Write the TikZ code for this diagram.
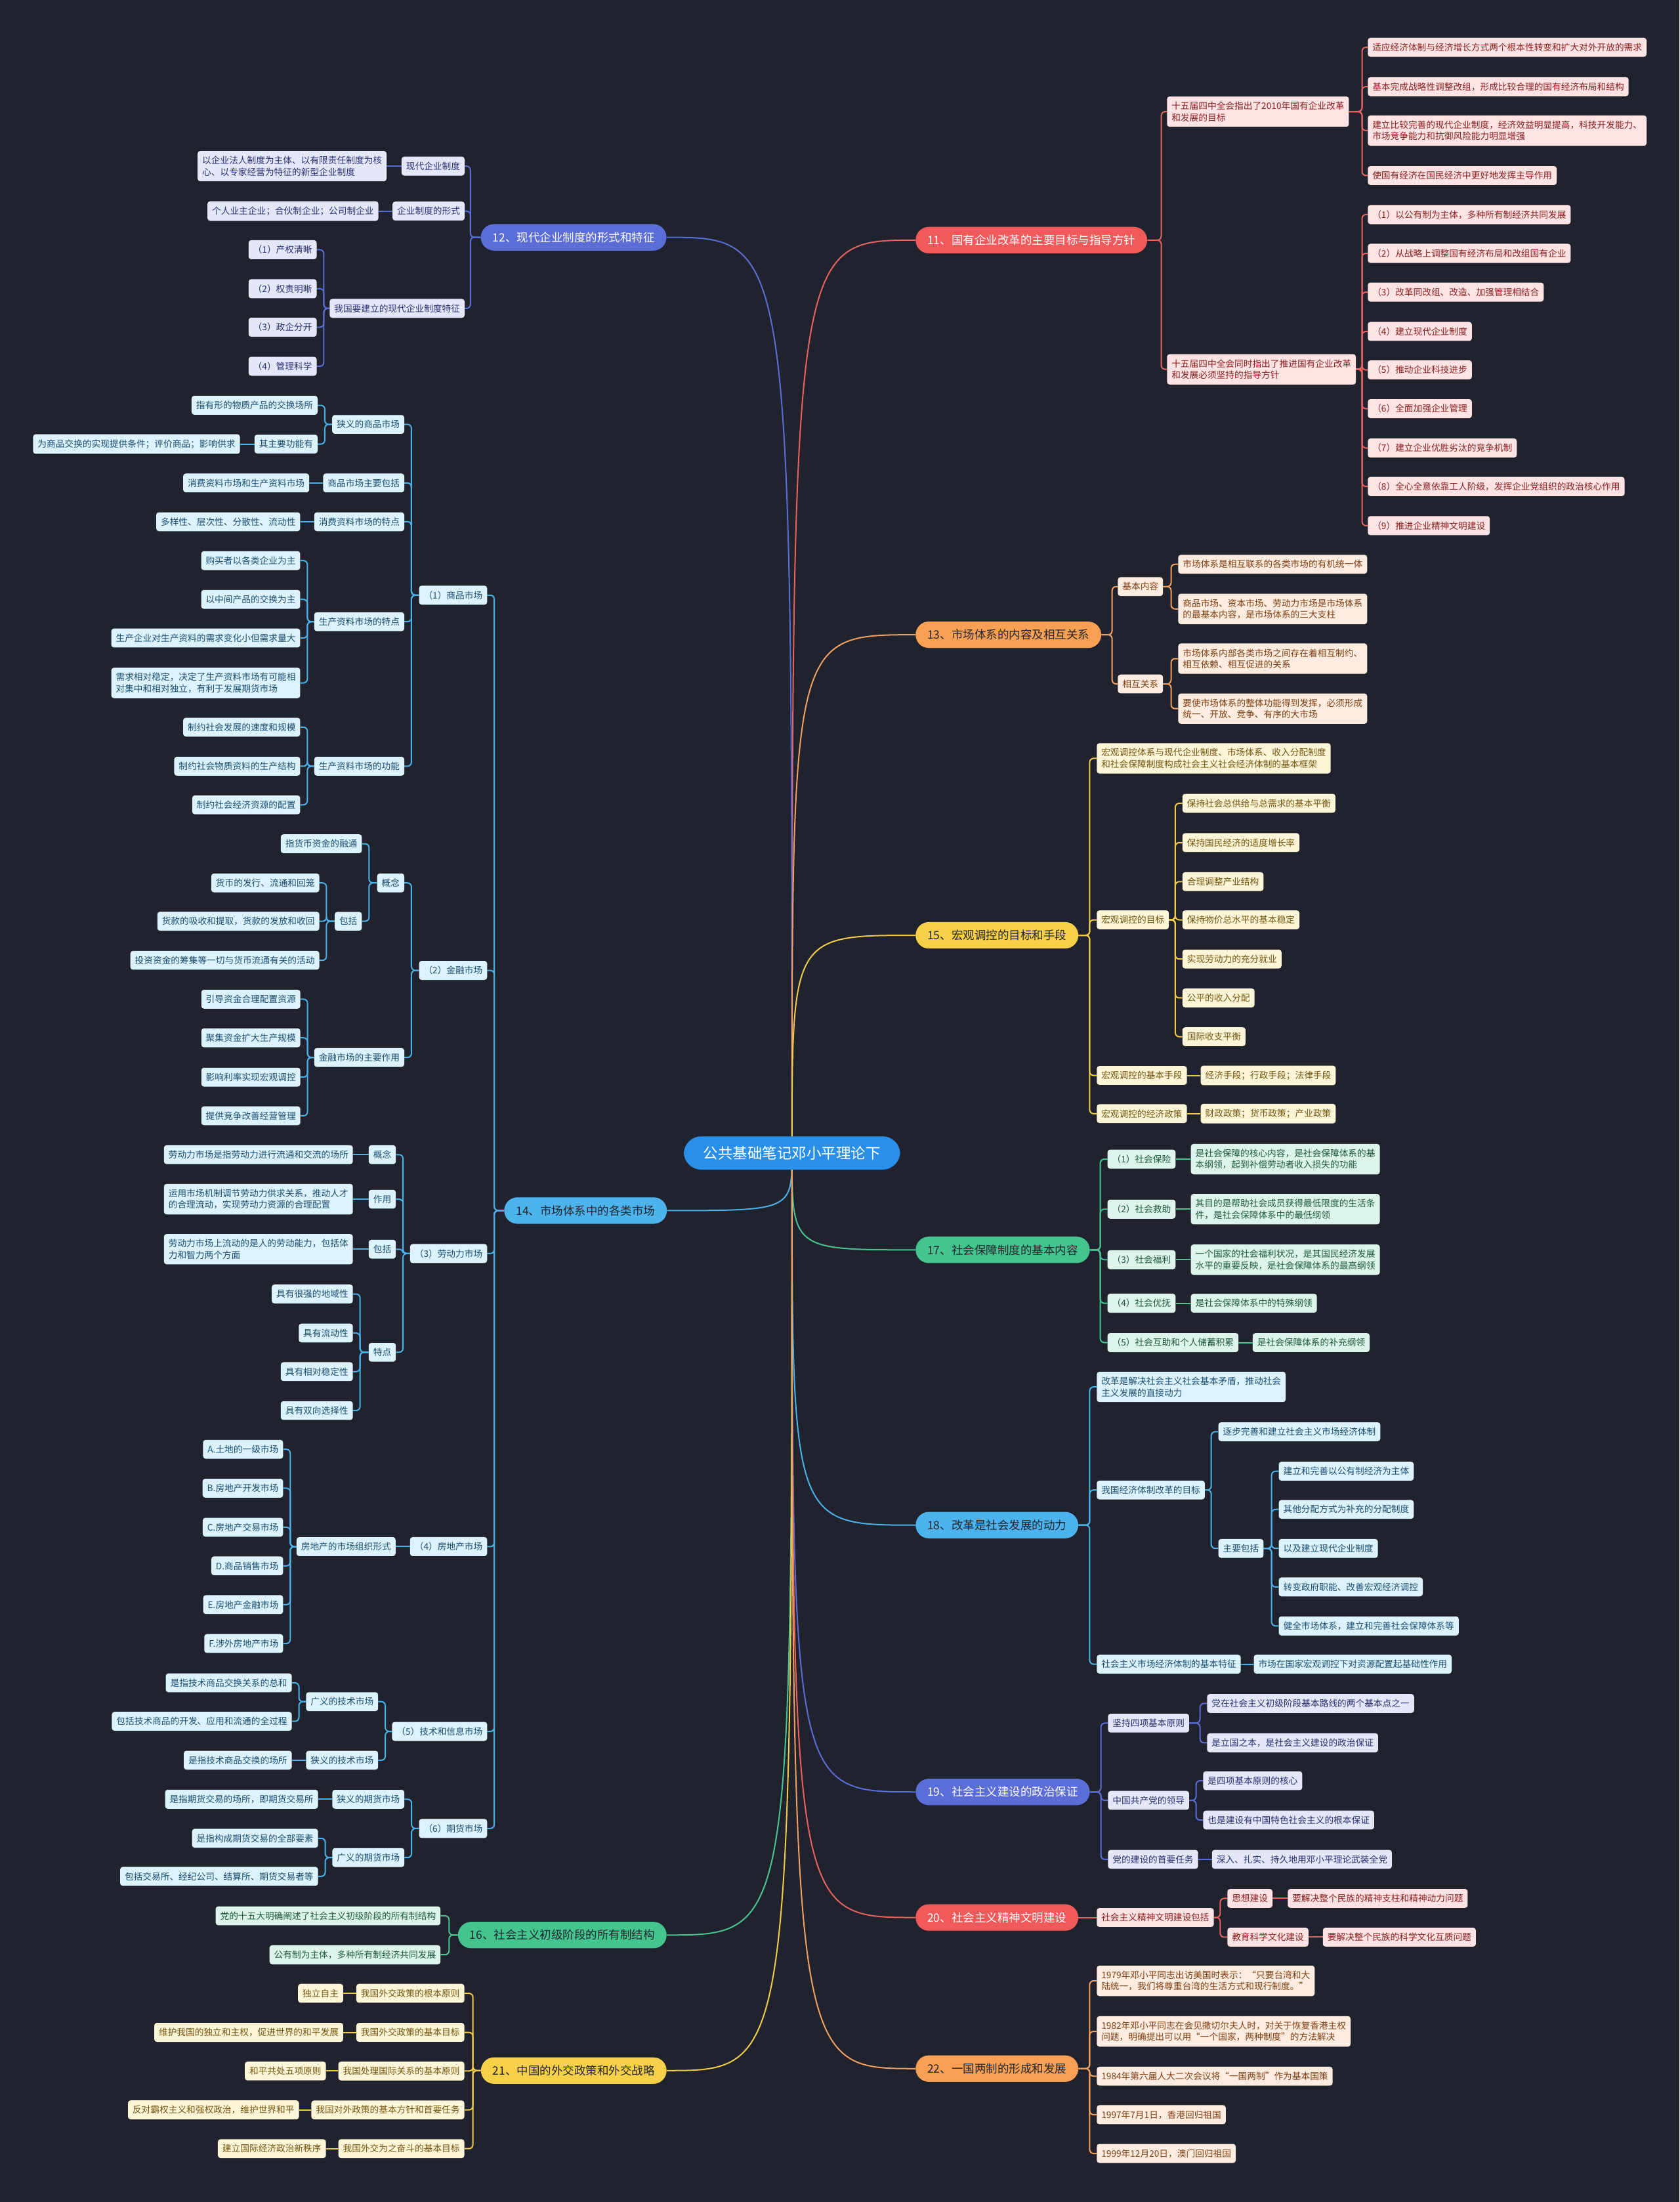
\documentclass[tikz,border=0pt]{standalone}
\usepackage{fontspec}
\setmainfont{Noto Sans CJK SC}
\usetikzlibrary{calc}
\pgfdeclarelayer{bg}\pgfdeclarelayer{edges}
\pgfsetlayers{bg,edges,main}
\definecolor{BG}{HTML}{20232E}
\definecolor{Hred}{HTML}{F05A5A}\definecolor{Lred}{HTML}{E8625F}\definecolor{Fred}{HTML}{FDE3E3}\definecolor{Tred}{HTML}{8A1F1F}
\definecolor{Hind}{HTML}{5B6DD6}\definecolor{Lind}{HTML}{5A6DD4}\definecolor{Find}{HTML}{E4E7F8}\definecolor{Tind}{HTML}{2A3170}
\definecolor{Horg}{HTML}{F7A053}\definecolor{Lorg}{HTML}{F0A060}\definecolor{Forg}{HTML}{FDECDF}\definecolor{Torg}{HTML}{7D3F12}
\definecolor{Hblu}{HTML}{4DB3EC}\definecolor{Lblu}{HTML}{4AB2E8}\definecolor{Fblu}{HTML}{DCF2FD}\definecolor{Tblu}{HTML}{1B4E6E}
\definecolor{Hyel}{HTML}{F7D04A}\definecolor{Lyel}{HTML}{F0CB4A}\definecolor{Fyel}{HTML}{FDF5D8}\definecolor{Tyel}{HTML}{72560E}
\definecolor{Hgrn}{HTML}{44C58F}\definecolor{Lgrn}{HTML}{48C493}\definecolor{Fgrn}{HTML}{DCF4EA}\definecolor{Tgrn}{HTML}{1F5A3E}
\definecolor{Hroot}{HTML}{2A8FE8}\definecolor{Hdark}{HTML}{23252E}
\newcommand{\nfs}{\fontsize{13.7pt}{17.4pt}\selectfont}
\newcommand{\hfs}{\fontsize{17.5pt}{21pt}\selectfont}
\newcommand{\rfs}{\fontsize{22.5pt}{27pt}\selectfont}
\tikzset{
  nd/.style={font=\nfs, inner xsep=7pt, inner ysep=8pt, rounded corners=4pt, align=left},
  R/.style={nd, anchor=west}, L/.style={nd, anchor=east},
  hone/.style={font=\hfs, inner xsep=18pt, inner ysep=12pt, rounded corners=20pt},
  rootnode/.style={font=\rfs, inner xsep=30pt, inner ysep=15pt, rounded corners=27pt, fill=Hroot, text=white},
  bred/.style={fill=Fred, text=Tred}, bind/.style={fill=Find, text=Tind},
  borg/.style={fill=Forg, text=Torg}, bblu/.style={fill=Fblu, text=Tblu},
  byel/.style={fill=Fyel, text=Tyel}, bgrn/.style={fill=Fgrn, text=Tgrn},
  ln/.style={line width=2pt, rounded corners=6pt, draw=#1},
  er/.style={to path={(\tikztostart.east) -| ($(\tikztotarget.west)+(-#1,0)$) -- (\tikztotarget.west)}},
  er/.default=5,
  el/.style={to path={(\tikztostart.west) -| ($(\tikztotarget.east)+(#1,0)$) -- (\tikztotarget.east)}},
  el/.default=5,
  sr/.style={to path={(\tikztostart.east) -- (\tikztotarget.west)}},
  sl/.style={to path={(\tikztostart.west) -- (\tikztotarget.east)}},
}
\begin{document}
\begin{tikzpicture}[x=2.1405pt,y=-2.1405pt]
\begin{pgfonlayer}{bg}
\fill[BG] (0,0) rectangle (1196,1568);
\end{pgfonlayer}
\useasboundingbox (0,0) rectangle (1196,1568);

% ---------- root ----------
\node[rootnode] (root) at (564,821) {公共基础笔记邓小平理论下};

% ---------- level 1 ----------
\node[hone,fill=Hred,text=white,anchor=west] (n11) at (652,171) {11、国有企业改革的主要目标与指导方针};
\node[hone,fill=Hind,text=white,anchor=east] (n12) at (474.7,169) {12、现代企业制度的形式和特征};
\node[hone,fill=Horg,text=Hdark,anchor=west] (n13) at (652,452) {13、市场体系的内容及相互关系};
\node[hone,fill=Hblu,text=Hdark,anchor=east] (n14) at (475,862) {14、市场体系中的各类市场};
\node[hone,fill=Hyel,text=Hdark,anchor=west] (n15) at (652,666) {15、宏观调控的目标和手段};
\node[hone,fill=Hgrn,text=Hdark,anchor=east] (n16) at (474.8,1377.9) {16、社会主义初级阶段的所有制结构};
\node[hone,fill=Hgrn,text=Hdark,anchor=west] (n17) at (652,890) {17、社会保障制度的基本内容};
\node[hone,fill=Hblu,text=Hdark,anchor=west] (n18) at (652,1086) {18、改革是社会发展的动力};
\node[hone,fill=Hind,text=white,anchor=west] (n19) at (652,1276) {19、社会主义建设的政治保证};
\node[hone,fill=Hred,text=white,anchor=west] (n20) at (652,1365.4) {20、社会主义精神文明建设};
\node[hone,fill=Hyel,text=Hdark,anchor=east] (n21) at (474.8,1474.4) {21、中国的外交政策和外交战略};
\node[hone,fill=Horg,text=Hdark,anchor=west] (n22) at (652,1473) {22、一国两制的形成和发展};

% ---------- branch 11 ----------
\node[R,bred] (a1) at (831,79.5) {十五届四中全会指出了2010年国有企业改革\\和发展的目标};
\node[R,bred] (a2) at (831,263) {十五届四中全会同时指出了推进国有企业改革\\和发展必须坚持的指导方针};
\node[R,bred] (a1a) at (974,33.7) {适应经济体制与经济增长方式两个根本性转变和扩大对外开放的需求};
\node[R,bred] (a1b) at (974,61.7) {基本完成战略性调整改组，形成比较合理的国有经济布局和结构};
\node[R,bred] (a1c) at (974,93) {建立比较完善的现代企业制度，经济效益明显提高，科技开发能力、\\市场竞争能力和抗御风险能力明显增强};
\node[R,bred] (a1d) at (974,125) {使国有经济在国民经济中更好地发挥主导作用};
\node[R,bred] (a2a) at (974,152.8) {（1）以公有制为主体，多种所有制经济共同发展};
\node[R,bred] (a2b) at (974,180.4) {（2）从战略上调整国有经济布局和改组国有企业};
\node[R,bred] (a2c) at (974,208) {（3）改革同改组、改造、加强管理相结合};
\node[R,bred] (a2d) at (974,236) {（4）建立现代企业制度};
\node[R,bred] (a2e) at (974,263.4) {（5）推动企业科技进步};
\node[R,bred] (a2f) at (974,291) {（6）全面加强企业管理};
\node[R,bred] (a2g) at (974,319) {（7）建立企业优胜劣汰的竞争机制};
\node[R,bred] (a2h) at (974,346.4) {（8）全心全意依靠工人阶级，发挥企业党组织的政治核心作用};
\node[R,bred] (a2i) at (974,374.3) {（9）推进企业精神文明建设};

% ---------- branch 12 ----------
\node[L,bind] (b1) at (331,118.3) {现代企业制度};
\node[L,bind] (b2) at (331,150.3) {企业制度的形式};
\node[L,bind] (b3) at (331,219.6) {我国要建立的现代企业制度特征};
\node[L,bind] (b1a) at (275.4,118.3) {以企业法人制度为主体、以有限责任制度为核\\心、以专家经营为特征的新型企业制度};
\node[L,bind] (b2a) at (269.6,150.3) {个人业主企业；合伙制企业；公司制企业};
\node[L,bind] (b3a) at (225.6,177.8) {（1）产权清晰};
\node[L,bind] (b3b) at (225.6,205.6) {（2）权责明晰};
\node[L,bind] (b3c) at (225.6,233) {（3）政企分开};
\node[L,bind] (b3d) at (225.6,260.8) {（4）管理科学};

% ---------- branch 14 ----------
\node[L,bblu] (c1) at (347,423.8) {（1）商品市场};
\node[L,bblu] (c2) at (347,691) {（2）金融市场};
\node[L,bblu] (c3) at (347,892.6) {（3）劳动力市场};
\node[L,bblu] (c4) at (347,1101.3) {（4）房地产市场};
\node[L,bblu] (c5) at (347,1232.9) {（5）技术和信息市场};
\node[L,bblu] (c6) at (347,1302) {（6）期货市场};

\node[L,bblu] (c1a) at (288,302.2) {狭义的商品市场};
\node[L,bblu] (c1b) at (288,343.9) {商品市场主要包括};
\node[L,bblu] (c1c) at (288,371.5) {消费资料市场的特点};
\node[L,bblu] (c1d) at (288,442.7) {生产资料市场的特点};
\node[L,bblu] (c1e) at (288,545.6) {生产资料市场的功能};
\node[L,bblu] (c1a1) at (226.3,288.6) {指有形的物质产品的交换场所};
\node[L,bblu] (c1a2) at (226.3,316.2) {其主要功能有};
\node[L,bblu] (c1a2a) at (171,316.2) {为商品交换的实现提供条件；评价商品；影响供求};
\node[L,bblu] (c1b1) at (220.3,343.9) {消费资料市场和生产资料市场};
\node[L,bblu] (c1c1) at (213.9,371.5) {多样性、层次性、分散性、流动性};
\node[L,bblu] (c1d1) at (213.9,399.2) {购买者以各类企业为主};
\node[L,bblu] (c1d2) at (213.9,426.8) {以中间产品的交换为主};
\node[L,bblu] (c1d3) at (213.9,454.3) {生产企业对生产资料的需求变化小但需求量大};
\node[L,bblu] (c1d4) at (213.9,486.3) {需求相对稳定，决定了生产资料市场有可能相\\对集中和相对独立，有利于发展期货市场};
\node[L,bblu] (c1e1) at (213.9,517.8) {制约社会发展的速度和规模};
\node[L,bblu] (c1e2) at (213.9,545.6) {制约社会物质资料的生产结构};
\node[L,bblu] (c1e3) at (213.9,573.1) {制约社会经济资源的配置};

\node[L,bblu] (c2a) at (288,628.7) {概念};
\node[L,bblu] (c2b) at (288,753) {金融市场的主要作用};
\node[L,bblu] (c2a1) at (257.8,600.8) {指货币资金的融通};
\node[L,bblu] (c2a2) at (257.8,656) {包括};
\node[L,bblu] (c2a2a) at (227.5,628.7) {货币的发行、流通和回笼};
\node[L,bblu] (c2a2b) at (227.5,656) {货款的吸收和提取，货款的发放和收回};
\node[L,bblu] (c2a2c) at (227.5,683.8) {投资资金的筹集等一切与货币流通有关的活动};
\node[L,bblu] (c2b1) at (214,711.5) {引导资金合理配置资源};
\node[L,bblu] (c2b2) at (214,739) {聚集资金扩大生产规模};
\node[L,bblu] (c2b3) at (214,767) {影响利率实现宏观调控};
\node[L,bblu] (c2b4) at (214,794.5) {提供竞争改善经营管理};

\node[L,bblu] (c3a) at (282,822.2) {概念};
\node[L,bblu] (c3b) at (282,853.9) {作用};
\node[L,bblu] (c3c) at (282,889.5) {包括};
\node[L,bblu] (c3d) at (282,962.9) {特点};
\node[L,bblu] (c3a1) at (251.4,822.2) {劳动力市场是指劳动力进行流通和交流的场所};
\node[L,bblu] (c3b1) at (251.4,853.9) {运用市场机制调节劳动力供求关系，推动人才\\的合理流动，实现劳动力资源的合理配置};
\node[L,bblu] (c3c1) at (251.4,889.5) {劳动力市场上流动的是人的劳动能力，包括体\\力和智力两个方面};
\node[L,bblu] (c3d1) at (251.4,921.4) {具有很强的地域性};
\node[L,bblu] (c3d2) at (251.4,949.2) {具有流动性};
\node[L,bblu] (c3d3) at (251.4,976.7) {具有相对稳定性};
\node[L,bblu] (c3d4) at (251.4,1004.4) {具有双向选择性};

\node[L,bblu] (c4a) at (281.8,1101.3) {房地产的市场组织形式};
\node[L,bblu] (c4a1) at (201.7,1032) {A.土地的一级市场};
\node[L,bblu] (c4a2) at (201.7,1059.7) {B.房地产开发市场};
\node[L,bblu] (c4a3) at (201.7,1087.5) {C.房地产交易市场};
\node[L,bblu] (c4a4) at (201.7,1115) {D.商品销售市场};
\node[L,bblu] (c4a5) at (201.7,1142.6) {E.房地产金融市场};
\node[L,bblu] (c4a6) at (201.7,1170.3) {F.涉外房地产市场};

\node[L,bblu] (c5a) at (269.4,1211.7) {广义的技术市场};
\node[L,bblu] (c5b) at (269.4,1253.4) {狭义的技术市场};
\node[L,bblu] (c5a1) at (207.9,1198.3) {是指技术商品交换关系的总和};
\node[L,bblu] (c5a2) at (207.9,1225.7) {包括技术商品的开发、应用和流通的全过程};
\node[L,bblu] (c5b1) at (207.9,1253.4) {是指技术商品交换的场所};

\node[L,bblu] (c6a) at (288.1,1281.2) {狭义的期货市场};
\node[L,bblu] (c6b) at (288.1,1322.7) {广义的期货市场};
\node[L,bblu] (c6a1) at (226.6,1281.2) {是指期货交易的场所，即期货交易所};
\node[L,bblu] (c6b1) at (226.6,1309) {是指构成期货交易的全部要素};
\node[L,bblu] (c6b2) at (226.6,1336.1) {包括交易所、经纪公司、结算所、期货交易者等};

% ---------- branch 16 ----------
\node[L,bgrn] (p1) at (313.8,1364.2) {党的十五大明确阐述了社会主义初级阶段的所有制结构};
\node[L,bgrn] (p2) at (313.8,1391.9) {公有制为主体，多种所有制经济共同发展};

% ---------- branch 21 ----------
\node[L,byel] (d1) at (330.8,1419.4) {我国外交政策的根本原则};
\node[L,byel] (d2) at (330.8,1447.2) {我国外交政策的基本目标};
\node[L,byel] (d3) at (330.8,1474.7) {我国处理国际关系的基本原则};
\node[L,byel] (d4) at (330.8,1502.4) {我国对外政策的基本方针和首要任务};
\node[L,byel] (d5) at (330.8,1530) {我国外交为之奋斗的基本目标};
\node[L,byel] (d1a) at (244.5,1419.4) {独立自主};
\node[L,byel] (d2a) at (244.5,1447.2) {维护我国的独立和主权，促进世界的和平发展};
\node[L,byel] (d3a) at (232.2,1474.7) {和平共处五项原则};
\node[L,byel] (d4a) at (213,1502.4) {反对霸权主义和强权政治，维护世界和平};
\node[L,byel] (d5a) at (232.2,1530) {建立国际经济政治新秩序};

% ---------- branch 13 ----------
\node[R,borg] (e1) at (796,417.7) {基本内容};
\node[R,borg] (e2) at (796,487) {相互关系};
\node[R,borg] (e1a) at (839,401.8) {市场体系是相互联系的各类市场的有机统一体};
\node[R,borg] (e1b) at (839,433.6) {商品市场、资本市场、劳动力市场是市场体系\\的最基本内容，是市场体系的三大支柱};
\node[R,borg] (e2a) at (839,469) {市场体系内部各类市场之间存在着相互制约、\\相互依赖、相互促进的关系};
\node[R,borg] (e2b) at (839,504.6) {要使市场体系的整体功能得到发挥，必须形成\\统一、开放、竞争、有序的大市场};

% ---------- branch 15 ----------
\node[R,byel] (f0) at (781,540) {宏观调控体系与现代企业制度、市场体系、收入分配制度\\和社会保障制度构成社会主义社会经济体制的基本框架};
\node[R,byel] (f1) at (781,655) {宏观调控的目标};
\node[R,byel] (f2) at (781,765.8) {宏观调控的基本手段};
\node[R,byel] (f3) at (781,793) {宏观调控的经济政策};
\node[R,byel] (f1a) at (842,572) {保持社会总供给与总需求的基本平衡};
\node[R,byel] (f1b) at (842,600) {保持国民经济的适度增长率};
\node[R,byel] (f1c) at (842,627.8) {合理调整产业结构};
\node[R,byel] (f1d) at (842,655) {保持物价总水平的基本稳定};
\node[R,byel] (f1e) at (842,682.9) {实现劳动力的充分就业};
\node[R,byel] (f1f) at (842,710.6) {公平的收入分配};
\node[R,byel] (f1g) at (842,738.2) {国际收支平衡};
\node[R,byel] (f2a) at (855,765.8) {经济手段；行政手段；法律手段};
\node[R,byel] (f3a) at (855,793) {财政政策；货币政策；产业政策};

% ---------- branch 17 ----------
\node[R,bgrn] (g1) at (788.6,825.4) {（1）社会保险};
\node[R,bgrn] (g2) at (788.6,861) {（2）社会救助};
\node[R,bgrn] (g3) at (788.6,897) {（3）社会福利};
\node[R,bgrn] (g4) at (788.6,928) {（4）社会优抚};
\node[R,bgrn] (g5) at (788.6,956) {（5）社会互助和个人储蓄积累};
\node[R,bgrn] (g1a) at (848,825.4) {是社会保障的核心内容，是社会保障体系的基\\本纲领，起到补偿劳动者收入损失的功能};
\node[R,bgrn] (g2a) at (848,861) {其目的是帮助社会成员获得最低限度的生活条\\件，是社会保障体系中的最低纲领};
\node[R,bgrn] (g3a) at (848,897) {一个国家的社会福利状况，是其国民经济发展\\水平的重要反映，是社会保障体系的最高纲领};
\node[R,bgrn] (g4a) at (848,928) {是社会保障体系中的特殊纲领};
\node[R,bgrn] (g5a) at (892,956) {是社会保障体系的补充纲领};

% ---------- branch 18 ----------
\node[R,bblu] (h0) at (781,987.6) {改革是解决社会主义社会基本矛盾，推动社会\\主义发展的直接动力};
\node[R,bblu] (h1) at (781,1061) {我国经济体制改革的目标};
\node[R,bblu] (h2) at (781,1185) {社会主义市场经济体制的基本特征};
\node[R,bblu] (h1a) at (867.6,1019.5) {逐步完善和建立社会主义市场经济体制};
\node[R,bblu] (h1b) at (867.6,1102.6) {主要包括};
\node[R,bblu] (h1b1) at (910.6,1047.6) {建立和完善以公有制经济为主体};
\node[R,bblu] (h1b2) at (910.6,1074.8) {其他分配方式为补充的分配制度};
\node[R,bblu] (h1b3) at (910.6,1102.6) {以及建立现代企业制度};
\node[R,bblu] (h1b4) at (910.6,1130) {转变政府职能、改善宏观经济调控};
\node[R,bblu] (h1b5) at (910.6,1157.8) {健全市场体系，建立和完善社会保障体系等};
\node[R,bblu] (h2a) at (892.8,1185) {市场在国家宏观调控下对资源配置起基础性作用};

% ---------- branch 19 ----------
\node[R,bind] (i1) at (789,1227) {坚持四项基本原则};
\node[R,bind] (i2) at (789,1282) {中国共产党的领导};
\node[R,bind] (i3) at (789,1324) {党的建设的首要任务};
\node[R,bind] (i1a) at (859.6,1213) {党在社会主义初级阶段基本路线的两个基本点之一};
\node[R,bind] (i1b) at (859.6,1241) {是立国之本，是社会主义建设的政治保证};
\node[R,bind] (i2a) at (856.8,1268) {是四项基本原则的核心};
\node[R,bind] (i2b) at (856.8,1296) {也是建设有中国特色社会主义的根本保证};
\node[R,bind] (i3a) at (863,1324) {深入、扎实、持久地用邓小平理论武装全党};

% ---------- branch 20 ----------
\node[R,bred] (j1) at (781,1365.4) {社会主义精神文明建设包括};
\node[R,bred] (j1a) at (874,1351.8) {思想建设};
\node[R,bred] (j1b) at (874,1379.4) {教育科学文化建设};
\node[R,bred] (j1a1) at (917,1351.8) {要解决整个民族的精神支柱和精神动力问题};
\node[R,bred] (j1b1) at (942,1379.4) {要解决整个民族的科学文化互质问题};

% ---------- branch 22 ----------
\node[R,borg] (k1) at (781,1410.5) {1979年邓小平同志出访美国时表示：“只要台湾和大\\陆统一，我们将尊重台湾的生活方式和现行制度。”};
\node[R,borg] (k2) at (781,1446.5) {1982年邓小平同志在会见撒切尔夫人时，对关于恢复香港主权\\问题，明确提出可以用“一个国家，两种制度”的方法解决};
\node[R,borg] (k3) at (781,1478.4) {1984年第六届人大二次会议将“一国两制”作为基本国策};
\node[R,borg] (k4) at (781,1505.8) {1997年7月1日，香港回归祖国};
\node[R,borg] (k5) at (781,1533.4) {1999年12月20日，澳门回归祖国};

% ================= edges =================
\begin{pgfonlayer}{edges}
% root curves
\draw[ln=Lred] (root.center) .. controls (root.center |- n11.west) .. (n11.west);
\draw[ln=Lind] (root.center) .. controls (root.center |- n12.east) .. (n12.east);
\draw[ln=Lorg] (root.center) .. controls (root.center |- n13.west) .. (n13.west);
\draw[ln=Lblu] (root.center) .. controls (root.center |- n14.east) .. (n14.east);
\draw[ln=Lyel] (root.center) .. controls (root.center |- n15.west) .. (n15.west);
\draw[ln=Lgrn] (root.center) .. controls (root.center |- n16.east) .. (n16.east);
\draw[ln=Lgrn] (root.center) .. controls (root.center |- n17.west) .. (n17.west);
\draw[ln=Lblu] (root.center) .. controls (root.center |- n18.west) .. (n18.west);
\draw[ln=Lind] (root.center) .. controls (root.center |- n19.west) .. (n19.west);
\draw[ln=Lred] (root.center) .. controls (root.center |- n20.west) .. (n20.west);
\draw[ln=Lyel] (root.center) .. controls (root.center |- n21.east) .. (n21.east);
\draw[ln=Lorg] (root.center) .. controls (root.center |- n22.west) .. (n22.west);

% branch 11
\draw[ln=Lred] (n11) to[er=4] (a1) (n11) to[er=4] (a2);
\foreach \c in {a1a,a1b,a1c,a1d} \draw[ln=Lred] (a1) to[er=4] (\c);
\foreach \c in {a2a,a2b,a2c,a2d,a2e,a2f,a2g,a2h,a2i} \draw[ln=Lred] (a2) to[er=4] (\c);

% branch 12
\foreach \c in {b1,b2,b3} \draw[ln=Lind] (n12) to[el=4] (\c);
\draw[ln=Lind] (b1) to[sl] (b1a) (b2) to[sl] (b2a);
\foreach \c in {b3a,b3b,b3c,b3d} \draw[ln=Lind] (b3) to[el=5] (\c);

% branch 14
\foreach \c in {c1,c2,c3,c4,c5,c6} \draw[ln=Lblu] (n14) to[el=5] (\c);
\foreach \c in {c1a,c1b,c1c,c1d,c1e} \draw[ln=Lblu] (c1) to[el=5] (\c);
\foreach \c in {c1a1,c1a2} \draw[ln=Lblu] (c1a) to[el=5] (\c);
\draw[ln=Lblu] (c1a2) to[sl] (c1a2a) (c1b) to[sl] (c1b1) (c1c) to[sl] (c1c1);
\foreach \c in {c1d1,c1d2,c1d3,c1d4} \draw[ln=Lblu] (c1d) to[el=5] (\c);
\foreach \c in {c1e1,c1e2,c1e3} \draw[ln=Lblu] (c1e) to[el=5] (\c);
\foreach \c in {c2a,c2b} \draw[ln=Lblu] (c2) to[el=5] (\c);
\foreach \c in {c2a1,c2a2} \draw[ln=Lblu] (c2a) to[el=5] (\c);
\foreach \c in {c2a2a,c2a2b,c2a2c} \draw[ln=Lblu] (c2a2) to[el=5] (\c);
\foreach \c in {c2b1,c2b2,c2b3,c2b4} \draw[ln=Lblu] (c2b) to[el=5] (\c);
\foreach \c in {c3a,c3b,c3c,c3d} \draw[ln=Lblu] (c3) to[el=5] (\c);
\draw[ln=Lblu] (c3a) to[sl] (c3a1) (c3b) to[sl] (c3b1) (c3c) to[sl] (c3c1);
\foreach \c in {c3d1,c3d2,c3d3,c3d4} \draw[ln=Lblu] (c3d) to[el=5] (\c);
\draw[ln=Lblu] (c4) to[sl] (c4a);
\foreach \c in {c4a1,c4a2,c4a3,c4a4,c4a5,c4a6} \draw[ln=Lblu] (c4a) to[el=5] (\c);
\foreach \c in {c5a,c5b} \draw[ln=Lblu] (c5) to[el=5] (\c);
\foreach \c in {c5a1,c5a2} \draw[ln=Lblu] (c5a) to[el=5] (\c);
\draw[ln=Lblu] (c5b) to[sl] (c5b1);
\foreach \c in {c6a,c6b} \draw[ln=Lblu] (c6) to[el=5] (\c);
\draw[ln=Lblu] (c6a) to[sl] (c6a1);
\foreach \c in {c6b1,c6b2} \draw[ln=Lblu] (c6b) to[el=5] (\c);

% branch 16
\foreach \c in {p1,p2} \draw[ln=Lgrn] (n16) to[el=6] (\c);

% branch 21
\foreach \c in {d1,d2,d3,d4,d5} \draw[ln=Lyel] (n21) to[el=6] (\c);
\draw[ln=Lyel] (d1) to[sl] (d1a) (d2) to[sl] (d2a) (d3) to[sl] (d3a) (d4) to[sl] (d4a) (d5) to[sl] (d5a);

% branch 13
\foreach \c in {e1,e2} \draw[ln=Lorg] (n13) to[er=4] (\c);
\foreach \c in {e1a,e1b} \draw[ln=Lorg] (e1) to[er=5] (\c);
\foreach \c in {e2a,e2b} \draw[ln=Lorg] (e2) to[er=5] (\c);

% branch 15
\foreach \c in {f0,f1,f2,f3} \draw[ln=Lyel] (n15) to[er=5] (\c);
\foreach \c in {f1a,f1b,f1c,f1d,f1e,f1f,f1g} \draw[ln=Lyel] (f1) to[er=5] (\c);
\draw[ln=Lyel] (f2) to[sr] (f2a) (f3) to[sr] (f3a);

% branch 17
\foreach \c in {g1,g2,g3,g4,g5} \draw[ln=Lgrn] (n17) to[er=5] (\c);
\draw[ln=Lgrn] (g1) to[sr] (g1a) (g2) to[sr] (g2a) (g3) to[sr] (g3a) (g4) to[sr] (g4a) (g5) to[sr] (g5a);

% branch 18
\foreach \c in {h0,h1,h2} \draw[ln=Lblu] (n18) to[er=5] (\c);
\foreach \c in {h1a,h1b} \draw[ln=Lblu] (h1) to[er=5] (\c);
\foreach \c in {h1b1,h1b2,h1b3,h1b4,h1b5} \draw[ln=Lblu] (h1b) to[er=5] (\c);
\draw[ln=Lblu] (h2) to[sr] (h2a);

% branch 19
\foreach \c in {i1,i2,i3} \draw[ln=Lind] (n19) to[er=5] (\c);
\foreach \c in {i1a,i1b} \draw[ln=Lind] (i1) to[er=5] (\c);
\foreach \c in {i2a,i2b} \draw[ln=Lind] (i2) to[er=5] (\c);
\draw[ln=Lind] (i3) to[sr] (i3a);

% branch 20
\draw[ln=Lred] (n20) to[sr] (j1);
\foreach \c in {j1a,j1b} \draw[ln=Lred] (j1) to[er=5] (\c);
\draw[ln=Lred] (j1a) to[sr] (j1a1) (j1b) to[sr] (j1b1);

% branch 22
\foreach \c in {k1,k2,k3,k4,k5} \draw[ln=Lorg] (n22) to[er=5] (\c);
\end{pgfonlayer}
\end{tikzpicture}
\end{document}
